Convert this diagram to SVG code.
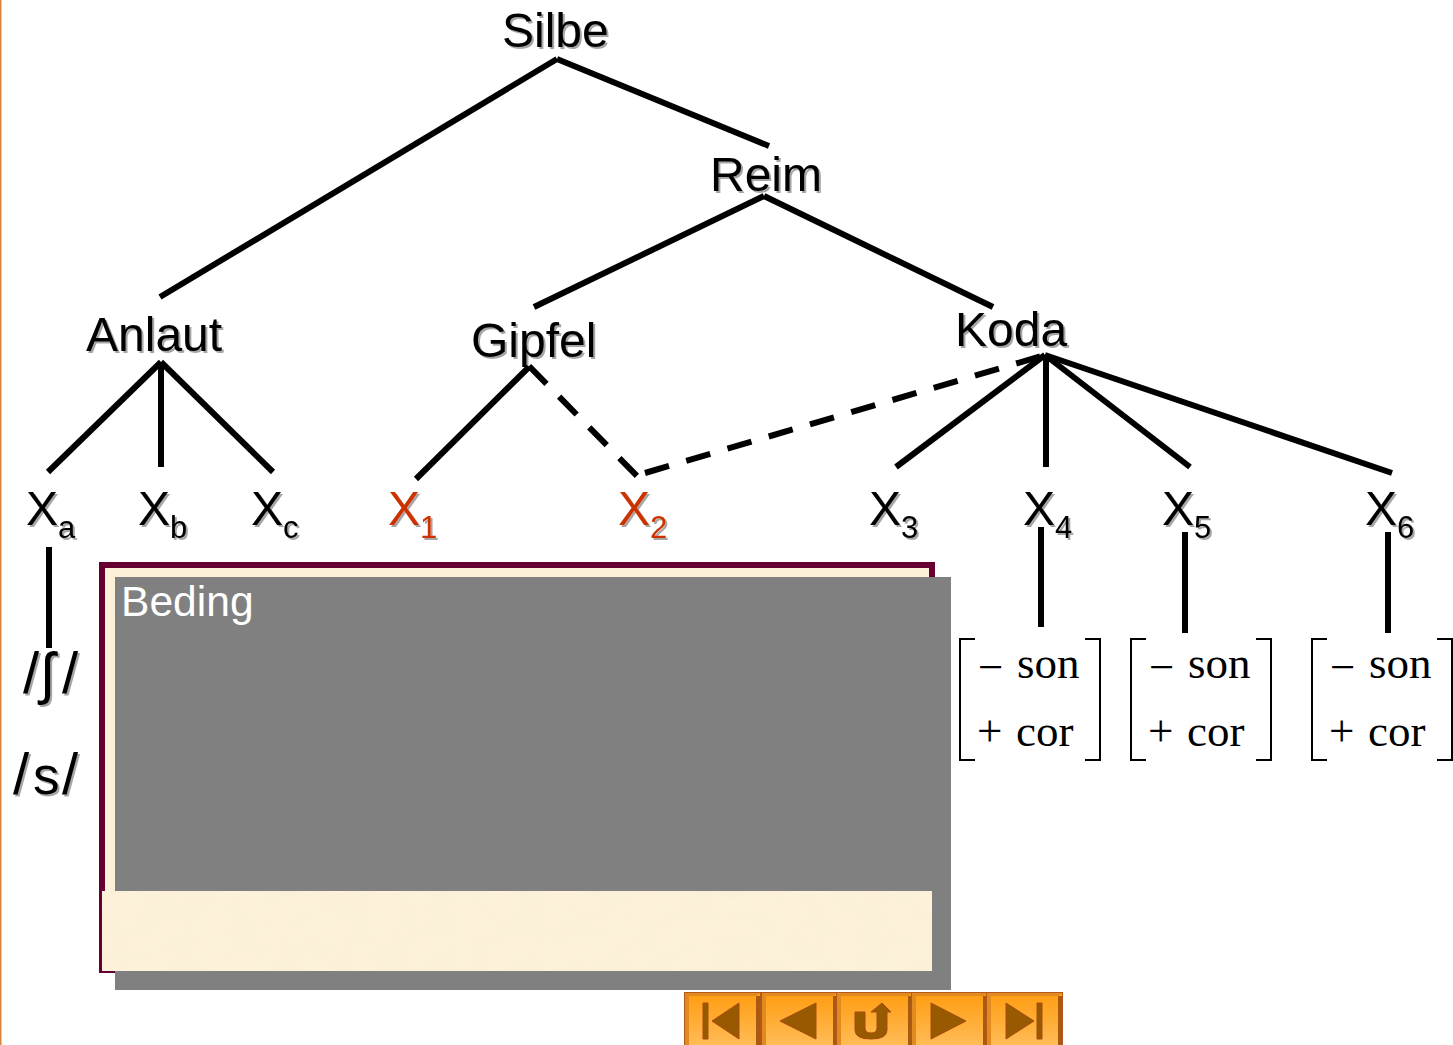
<svg xmlns="http://www.w3.org/2000/svg" width="1453" height="1045" viewBox="0 0 1453 1045">
<defs>
<filter id="sh" x="-10%" y="-10%" width="125%" height="125%"><feDropShadow dx="2" dy="2" stdDeviation="0.7" flood-color="#000" flood-opacity="0.35"/></filter>
<filter id="tex" x="0" y="0" width="100%" height="100%"><feTurbulence type="fractalNoise" baseFrequency="0.035 0.05" numOctaves="3" seed="4"/><feColorMatrix values="0 0 0 0 0.96  0 0 0 0 0.87  0 0 0 0 0.68  1.6 0 0 0 -0.35"/><feComposite in2="SourceGraphic" operator="over"/></filter>
<linearGradient id="btn" x1="0" y1="0" x2="0" y2="1"><stop offset="0" stop-color="#ff9c10"/><stop offset="1" stop-color="#ffc060"/></linearGradient>
<g id="b"><rect x="0.5" y="0.5" width="76" height="60" fill="url(#btn)" stroke="#b5561a"/><path d="M1 1H76L72 4H5V60H1Z" fill="#e08a20"/><path d="M72 4H76V60H72Z" fill="#a85a10"/></g>
</defs>
<style>
.t{font-family:"Liberation Sans",Arial,sans-serif;font-size:48px;fill:#000;filter:url(#sh)}
.r{fill:#cc3300}
.sub{font-size:31px}
.sl{font-size:58px}
.ss{font-size:53px}
.m{font-family:"Liberation Serif","Times New Roman",serif;font-size:45px;fill:#000}
.l{stroke:#000;stroke-width:6;fill:none}
.d{stroke-dasharray:25 18}
.br{stroke:#000;stroke-width:2;fill:none}
.ic{fill:#975a00;stroke:#a84a10;stroke-width:1}
</style>
<rect width="1453" height="1045" fill="#fff"/>
<rect x="0" y="0" width="1.5" height="1045" fill="#d9843c"/>
<g id="connectors">
<path class="l" d="M557 59L160 297"/>
<path class="l" d="M557 59L769 146"/>
<path class="l" d="M764 196L534 307"/>
<path class="l" d="M764 196L993 307"/>
<path class="l" d="M161 362L48 472"/>
<path class="l" d="M161 362V467"/>
<path class="l" d="M161 362L273 472"/>
<path class="l" d="M529 367L416 479"/>
<path class="l d" d="M529 366L637 476"/>
<path class="l d" d="M645 473L1045 355"/>
<path class="l" d="M1045 355L896 467"/>
<path class="l" d="M1046 358V467"/>
<path class="l" d="M1045 355L1190 467"/>
<path class="l" d="M1045 355L1392 473"/>
<path class="l" d="M49 547V648"/>
<path class="l" d="M1041 527V627"/>
<path class="l" d="M1185 532V633"/>
<path class="l" d="M1388 532V633"/>
</g>
<g id="silbe"><text class="t" x="502" y="47">Silbe</text></g>
<g id="reim"><text class="t" x="710" y="191">Reim</text></g>
<g id="anlaut"><text class="t" x="86" y="351">Anlaut</text></g>
<g id="gipfel"><text class="t" x="471" y="357">Gipfel</text></g>
<g id="koda"><text class="t" x="955" y="346">Koda</text></g>
<g id="xa"><text class="t" x="26" y="525">X<tspan class="sub" dy="13">a</tspan></text></g>
<g id="xb"><text class="t" x="138" y="525">X<tspan class="sub" dy="13">b</tspan></text></g>
<g id="xc"><text class="t" x="251" y="525">X<tspan class="sub" dy="13">c</tspan></text></g>
<g id="x1"><text class="t r" x="388" y="525">X<tspan class="sub" dy="13">1</tspan></text></g>
<g id="x2"><text class="t r" x="618" y="525">X<tspan class="sub" dy="13">2</tspan></text></g>
<g id="x3"><text class="t" x="869" y="525">X<tspan class="sub" dy="13">3</tspan></text></g>
<g id="x4"><text class="t" x="1023" y="525">X<tspan class="sub" dy="13">4</tspan></text></g>
<g id="x5"><text class="t" x="1162" y="525">X<tspan class="sub" dy="13">5</tspan></text></g>
<g id="x6"><text class="t" x="1365" y="525">X<tspan class="sub" dy="13">6</tspan></text></g>
<g id="sh-phon"><text class="t sl" x="23 41 62" y="693">/ʃ/</text></g>
<g id="s-phon"><text class="t" x="13" y="794"><tspan class="sl">/</tspan><tspan class="ss" x="33">s</tspan><tspan class="sl" x="62">/</tspan></text></g>
<g id="feat1">
<path class="br" d="M975 639H960V760H975M1085 639H1100V760H1085"/>
<text class="m" x="978" y="682">−</text><text class="m" x="1017" y="678">son</text><text class="m" x="977" y="746">+</text><text class="m" x="1016" y="746">cor</text></g>
<g id="feat2">
<path class="br" d="M1146 639H1131V760H1146M1256 639H1271V760H1256"/>
<text class="m" x="1149" y="682">−</text><text class="m" x="1188" y="678">son</text><text class="m" x="1148" y="746">+</text><text class="m" x="1187" y="746">cor</text></g>
<g id="feat3">
<path class="br" d="M1327 639H1312V760H1327M1437 639H1452V760H1437"/>
<text class="m" x="1330" y="682">−</text><text class="m" x="1369" y="678">son</text><text class="m" x="1329" y="746">+</text><text class="m" x="1368" y="746">cor</text></g>
<g id="callout">
<rect x="102" y="565" width="830" height="405" fill="#fcf0d8" stroke="#660033" stroke-width="6"/>
<rect x="115" y="577" width="836" height="413" fill="#808080"/>
<rect x="102" y="891" width="830" height="80" fill="#fdf1da" filter="url(#tex)"/>
<text x="121" y="616" font-family="'Liberation Sans',Arial,sans-serif" font-size="42.6" fill="#fff">Beding</text>
</g>
<g id="nav">
<use href="#b" x="684" y="992"/><use href="#b" x="761" y="992"/><use href="#b" x="836" y="992"/><use href="#b" x="911" y="992"/><use href="#b" x="986" y="992"/>
<path class="ic" d="M703 1003H708V1039H703ZM739 1003V1039L712 1021Z"/>
<path class="ic" d="M816 1003V1039L780 1021Z"/>
<path class="ic" d="M855 1012H865V1028Q865 1033 871 1033Q877 1033 877 1028V1012H871L882 1003L891 1012H887V1030Q887 1039 871 1039Q855 1039 855 1030Z"/>
<path class="ic" d="M931 1003V1039L966 1021Z"/>
<path class="ic" d="M1006 1003V1039L1034 1021ZM1037 1003H1042V1039H1037Z"/>
</g>
</svg>
